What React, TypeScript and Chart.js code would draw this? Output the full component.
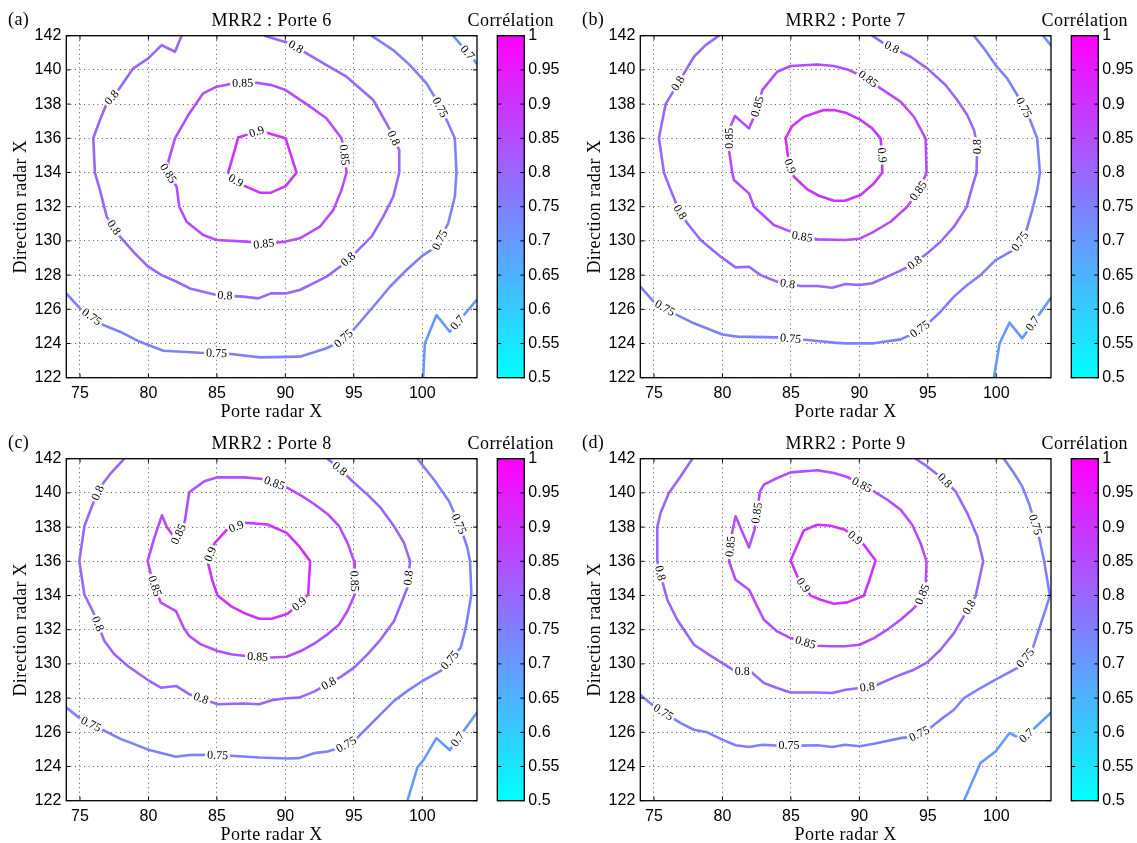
import React, { useEffect, useRef } from 'react';
import { Chart, registerables } from 'chart.js';

Chart.register(...registerables);

// ---------- axes / colour scale ----------
const X_MIN = 74;
const X_MAX = 104;
const Y_MIN = 122;
const Y_MAX = 142;
const xTicks = [75, 80, 85, 90, 95, 100];
const yTicks = [122, 124, 126, 128, 130, 132, 134, 136, 138, 140, 142];
const C_MIN = 0.5;
const C_MAX = 1;
const cbTicks = [0.5, 0.55, 0.6, 0.65, 0.7, 0.75, 0.8, 0.85, 0.9, 0.95, 1];
const xTitle = 'Porte radar X';
const yTitle = 'Direction radar X';
const cbTitle = 'Corrélation';

type P = [number, number];

// ---------- Porte 6 ----------
const p6_090: P[] = [[86.56,136.05],[87.9,136.39],[88.63,136.33],[90.02,136.0],[90.82,133.99],[90.02,133.2],[88.95,132.82],[88.14,132.82],[87.05,133.2],[86.39,133.52],[85.83,133.99]];
const p6_085: P[] = [[84.0,138.63],[84.98,139.02],[86.2,139.21],[87.9,139.25],[89.0,139.11],[90.02,138.82],[91.55,138.0],[93.0,137.17],[94.1,136.0],[94.23,135.6],[94.47,134.0],[94.1,132.97],[93.5,131.8],[92.52,130.83],[91.06,130.15],[90.02,129.96],[88.43,129.82],[87.17,129.96],[84.98,130.05],[84.0,130.34],[82.79,131.12],[82.25,132.0],[82.06,133.17],[81.45,133.95],[81.45,134.63],[81.94,136.0],[82.91,137.36]];
const p6_080: P[] = [[88.5,142],[90.33,141.55],[91.55,140.97],[93.01,140.28],[94.47,139.6],[96.42,138.24],[97.52,136.68],[98.32,135.31],[98.32,133.99],[97.88,132.58],[97.15,131.42],[96.3,130.25],[95.2,129.37],[93.99,128.49],[93.01,127.91],[92.04,127.52],[91.06,127.13],[90.02,126.93],[88.95,126.93],[88.02,126.64],[86.93,126.74],[84.98,126.83],[84.0,127.03],[83.03,127.22],[82.06,127.61],[80.96,128.0],[79.99,128.49],[79.01,129.27],[77.92,130.25],[76.95,131.42],[76.46,132.97],[76.09,133.99],[75.97,136.0],[76.46,137.07],[76.95,138.04],[77.8,138.82],[78.89,140.09],[79.99,140.67],[80.96,141.45],[81.94,141.06],[82.42,142]];
const p6_075: P[] = [[96.3,142],[97.88,141.16],[99.1,140.28],[100.31,139.21],[101.04,138.24],[101.9,136.87],[102.38,136.0],[102.5,133.99],[102.38,132.58],[101.9,131.03],[101.04,129.66],[100.07,129.17],[98.85,128.3],[97.64,127.32],[96.42,126.15],[94.96,124.79],[93.99,124.1],[93.01,123.72],[91.06,123.23],[88.14,123.19],[85.71,123.42],[83.76,123.46],[81.08,123.58],[79.38,124.1],[77.92,124.69],[76.7,125.08],[75.0,126.05],[74.0,126.93]];
const p6_070a: P[] = [[102.26,142],[103.97,140.38]];
const p6_070b: P[] = [[100.07,122],[100.19,124.0],[101.04,125.66],[102.02,124.69],[103.97,126.54]];
const p6_labels: [number, number, number][] = [
  [0.9,87.9,136.39],[0.9,86.39,133.52],
  [0.85,86.88,139.25],[0.85,94.23,135.02],[0.85,88.43,129.82],[0.85,81.45,133.95],
  [0.8,90.7,141.26],[0.8,97.88,136.0],[0.8,94.59,128.92],[0.8,85.59,126.74],[0.8,77.38,130.73],[0.8,77.38,138.34],
  [0.75,101.17,137.75],[0.75,101.29,130.05],[0.75,94.35,124.2],[0.75,84.98,123.42],[0.75,75.78,125.47],
  [0.7,103.24,140.97],[0.7,102.5,125.27],
];

// ---------- Porte 7 ----------
const p7_090: P[] = [[84.61,136.0],[85.1,136.72],[85.95,137.26],[87.41,137.65],[88.14,137.65],[89.0,137.5],[90.02,137.11],[90.94,136.58],[91.55,136.0],[91.67,134.92],[91.67,133.99],[91.06,133.36],[90.09,132.68],[88.95,132.35],[88.14,132.35],[87.05,132.64],[86.2,133.01],[85.22,133.75],[84.86,134.53]];
const p7_085: P[] = [[84.0,139.89],[84.98,140.23],[86.93,140.32],[88.14,140.23],[89.12,140.03],[90.58,139.5],[91.55,138.92],[93.01,138.14],[93.99,137.26],[94.84,136.0],[94.91,133.99],[94.35,132.97],[93.5,132.0],[92.28,131.12],[90.94,130.48],[90.02,130.13],[88.95,130.05],[86.93,130.09],[85.83,130.25],[84.98,130.54],[83.76,130.93],[82.3,132.0],[81.94,132.78],[80.84,133.56],[80.72,133.99],[80.48,135.31],[80.48,136.48],[80.91,137.3],[81.94,136.58],[82.42,137.46],[82.91,138.82]];
const p7_080: P[] = [[79.74,142],[78.77,141.45],[77.92,140.77],[77.19,139.8],[76.46,138.82],[75.85,138.0],[75.36,136.0],[75.73,133.99],[76.22,132.97],[76.82,131.8],[77.43,131.03],[78.41,130.05],[79.87,129.08],[80.96,128.45],[81.94,128.49],[82.79,128.0],[84.0,127.61],[85.71,127.36],[86.93,127.36],[88.02,127.26],[89.0,127.48],[90.02,127.42],[90.94,127.52],[92.04,127.91],[93.01,128.26],[93.99,128.69],[94.96,129.27],[95.93,129.95],[96.91,130.83],[97.83,131.96],[98.25,133.17],[98.56,133.99],[98.61,135.61],[98.37,136.48],[97.88,137.36],[97.15,138.24],[96.3,139.12],[94.96,140.09],[93.74,140.77],[92.77,141.16],[91.79,141.55],[90.94,142]];
const p7_075: P[] = [[98.37,142],[99.1,141.26],[99.95,140.28],[100.8,139.5],[101.53,138.53],[102.38,137.26],[102.99,136.0],[103.19,133.99],[102.99,132.97],[102.63,131.8],[102.14,130.44],[101.29,129.47],[99.95,128.88],[98.85,128.0],[97.88,127.42],[96.91,126.74],[95.93,125.86],[95.08,125.22],[93.99,124.59],[93.01,124.24],[91.06,124.01],[88.95,124.01],[88.14,124.05],[86.2,124.2],[84.0,124.36],[81.08,124.4],[79.99,124.53],[77.92,125.18],[76.7,125.66],[75.0,126.44],[74.0,127.32]];
const p7_070a: P[] = [[103.43,142],[103.97,141.45]];
const p7_070b: P[] = [[99.83,122],[100.24,124.0],[100.97,125.22],[101.9,124.3],[103.97,126.64]];
const p7_labels: [number, number, number][] = [
  [0.9,91.67,135.02],[0.9,84.86,134.34],
  [0.85,90.58,139.41],[0.85,94.23,132.97],[0.85,85.83,130.25],[0.85,80.48,136.0],[0.85,82.74,137.81],
  [0.8,76.95,139.12],[0.8,76.95,131.71],[0.8,84.74,127.42],[0.8,93.99,128.78],[0.8,98.61,135.51],[0.8,92.4,141.36],
  [0.75,101.9,137.75],[0.75,101.78,129.95],[0.75,94.47,124.79],[0.75,84.98,124.3],[0.75,75.85,126.15],
  [0.7,102.63,125.18],
];

// ---------- Porte 8 ----------
const p8_090: P[] = [[87.12,138.25],[88.7,138.15],[90.09,137.66],[91.01,136.88],[91.81,136.01],[91.67,134.06],[91.13,133.58],[90.16,132.93],[89.01,132.64],[88.09,132.64],[87.12,132.93],[86.02,133.38],[85.05,134.0],[84.68,134.84],[84.32,136.01],[84.85,137.08],[85.66,137.8]];
const p8_085: P[] = [[82.98,140.04],[84.08,140.68],[85.05,140.91],[86.99,140.91],[88.21,140.83],[89.18,140.58],[90.16,140.29],[91.13,139.86],[92.1,139.35],[93.08,138.77],[93.93,138.05],[94.54,137.08],[95.02,136.01],[95.07,134.06],[94.54,133.09],[93.93,132.31],[93.08,131.73],[92.1,131.18],[91.13,130.75],[90.09,130.42],[89.01,130.37],[87.12,130.46],[86.02,130.56],[85.05,130.75],[83.83,131.14],[82.98,131.63],[82.57,132.12],[82.01,133.09],[80.91,133.58],[80.67,134.06],[80.18,135.23],[79.94,136.01],[80.43,137.37],[80.99,138.69],[81.35,137.99],[82.01,137.27],[82.66,138.34]];
const p8_080: P[] = [[78.24,142],[77.26,141.16],[76.53,140.39],[75.92,139.32],[75.32,138.05],[74.95,136.01],[75.32,134.06],[76.05,132.89],[76.78,131.34],[77.51,130.56],[78.49,129.88],[80.06,129.0],[80.91,128.61],[82.01,128.71],[82.98,128.23],[85.05,127.64],[86.99,127.68],[88.09,127.64],[89.01,127.88],[90.09,127.99],[91.01,128.03],[92.1,128.38],[94.05,129.24],[95.02,129.78],[96.0,130.56],[96.97,131.44],[97.94,132.51],[98.43,133.48],[98.91,134.45],[99.11,136.01],[98.67,137.08],[97.94,138.05],[96.97,139.12],[96.0,139.9],[94.9,140.68],[94.05,141.36],[93.08,142]];
const p8_075: P[] = [[99.65,142],[100.86,140.77],[101.96,139.51],[102.81,137.95],[103.3,136.79],[103.49,136.01],[103.59,134.06],[103.18,132.12],[102.81,130.95],[101.35,129.59],[100.01,129.0],[98.92,128.42],[97.94,127.84],[96.97,127.06],[96.0,126.28],[95.15,125.6],[94.05,125.11],[93.08,124.88],[92.1,124.78],[91.01,124.49],[90.09,124.47],[88.09,124.53],[86.02,124.63],[84.08,124.68],[82.98,124.67],[82.01,124.57],[80.06,124.96],[78.97,125.31],[78.0,125.6],[76.78,126.09],[75.07,126.77],[74.0,127.45]];
const p8_070: P[] = [[98.92,122],[99.65,123.95],[100.09,124.37],[101.03,125.66],[102.01,124.96],[104,127.16]];
const p8_labels: [number, number, number][] = [
  [0.9,86.39,138.09],[0.9,84.56,136.4],[0.9,91.01,133.52],
  [0.85,89.18,140.52],[0.85,95.02,134.84],[0.85,87.97,130.37],[0.85,80.43,134.55],[0.85,82.25,137.56],
  [0.8,76.48,139.94],[0.8,76.17,132.31],[0.8,83.78,127.84],[0.8,93.2,128.81],[0.8,98.92,135.04],[0.8,94.05,141.49],
  [0.75,102.57,138.15],[0.75,102.08,130.17],[0.75,94.54,125.15],[0.75,85.05,124.67],[0.75,75.8,126.47],
  [0.7,102.57,125.6],
];

// ---------- Porte 9 ----------
const p9_090: P[] = [[84.98,136.05],[85.95,137.81],[86.93,138.14],[87.9,138.08],[88.95,137.85],[90.33,136.97],[91.19,136.05],[90.7,134.83],[90.33,133.99],[89.12,133.6],[88.14,133.52],[87.17,133.75],[86.44,133.99],[85.47,135.12]];
const p9_085: P[] = [[83.03,140.48],[84.0,140.87],[84.98,141.2],[86.93,141.32],[88.14,141.16],[89.12,140.93],[91.06,140.09],[92.04,139.6],[93.01,139.02],[93.86,138.14],[94.47,137.07],[94.91,136.0],[94.84,134.53],[94.35,133.56],[93.86,133.17],[93.01,132.58],[92.04,132.0],[91.06,131.51],[90.02,131.12],[88.95,131.03],[87.9,131.03],[86.93,131.06],[84.98,131.51],[84.0,131.9],[83.03,132.58],[82.54,133.36],[81.94,134.34],[80.96,134.92],[80.48,136.0],[80.65,137.46],[80.96,138.63],[81.94,136.81],[82.35,137.85],[82.74,140.09]];
const p9_080: P[] = [[77.8,142],[76.95,140.97],[76.09,140.0],[75.48,138.82],[75.24,138.0],[75.24,136.0],[75.61,134.83],[75.97,133.75],[76.7,132.58],[77.92,131.12],[79.01,130.54],[79.99,130.05],[80.96,129.56],[82.06,129.56],[83.03,128.88],[84.0,128.59],[84.98,128.33],[86.93,128.33],[88.02,128.3],[89.0,128.49],[90.02,128.59],[91.06,128.69],[92.04,129.04],[93.01,129.37],[93.99,129.66],[94.96,130.09],[95.93,130.83],[96.91,131.8],[97.76,132.97],[98.49,133.95],[98.73,134.83],[99.05,136.0],[98.61,137.46],[97.88,138.82],[97.03,140.09],[96.18,140.77],[94.96,141.55],[94.11,142]];
const p9_075: P[] = [[100.56,142],[101.29,141.16],[101.9,140.38],[102.38,139.41],[103.11,137.46],[103.48,136.09],[103.92,133.99],[103.6,133.17],[103.11,132.0],[102.63,130.83],[101.53,129.76],[99.95,129.08],[98.85,128.59],[97.64,128.0],[96.91,127.32],[95.93,126.74],[95.08,126.19],[93.99,125.76],[93.01,125.66],[91.06,125.33],[90.02,125.18],[88.95,125.27],[88.02,125.14],[86.93,125.24],[85.71,125.22],[84.0,125.22],[82.91,125.27],[81.94,125.14],[80.96,125.24],[79.99,125.57],[78.89,126.0],[77.92,126.15],[76.95,126.54],[75.0,127.52],[74.0,128.2]];
const p9_070: P[] = [[97.64,122],[98.85,124.2],[99.95,124.88],[100.97,125.96],[101.9,125.57],[103.97,127.13]];
const p9_labels: [number, number, number][] = [
  [0.9,89.68,137.36],[0.9,85.95,134.63],
  [0.85,90.21,140.48],[0.85,94.35,134.14],[0.85,86.07,131.26],[0.85,80.48,136.87],[0.85,82.54,138.82],
  [0.8,75.48,135.31],[0.8,81.45,129.5],[0.8,90.58,128.65],[0.8,98.12,133.27],[0.8,96.3,140.77],
  [0.75,102.87,138.14],[0.75,102.14,130.34],[0.75,94.35,125.96],[0.75,84.86,125.22],[0.75,75.68,127.17],
  [0.7,102.26,125.76],
];

// ---------- panels ----------
type Contour = { level: number; pts: P[]; closed: boolean };
type Panel = { tag: string; title: string; contours: Contour[]; labels: [number, number, number][] };

const panels: Panel[] = [
  { tag: '(a)', title: 'MRR2 : Porte 6', labels: p6_labels, contours: [
    { level: 0.9, pts: p6_090, closed: true }, { level: 0.85, pts: p6_085, closed: true },
    { level: 0.8, pts: p6_080, closed: false }, { level: 0.75, pts: p6_075, closed: false },
    { level: 0.7, pts: p6_070a, closed: false }, { level: 0.7, pts: p6_070b, closed: false } ] },
  { tag: '(b)', title: 'MRR2 : Porte 7', labels: p7_labels, contours: [
    { level: 0.9, pts: p7_090, closed: true }, { level: 0.85, pts: p7_085, closed: true },
    { level: 0.8, pts: p7_080, closed: false }, { level: 0.75, pts: p7_075, closed: false },
    { level: 0.7, pts: p7_070a, closed: false }, { level: 0.7, pts: p7_070b, closed: false } ] },
  { tag: '(c)', title: 'MRR2 : Porte 8', labels: p8_labels, contours: [
    { level: 0.9, pts: p8_090, closed: true }, { level: 0.85, pts: p8_085, closed: true },
    { level: 0.8, pts: p8_080, closed: false }, { level: 0.75, pts: p8_075, closed: false },
    { level: 0.7, pts: p8_070, closed: false } ] },
  { tag: '(d)', title: 'MRR2 : Porte 9', labels: p9_labels, contours: [
    { level: 0.9, pts: p9_090, closed: true }, { level: 0.85, pts: p9_085, closed: true },
    { level: 0.8, pts: p9_080, closed: false }, { level: 0.75, pts: p9_075, closed: false },
    { level: 0.7, pts: p9_070, closed: false } ] },
];

// ---------- layout ----------
const COL_STEP = 574;
const ROW_STEP = 423;
const MAIN_W = 486;
const MAIN_H = 423;
const AREA_LEFT = 66.3;
const AREA_RIGHT = 477;
const AREA_TOP = 35.7;
const AREA_BOTTOM = 377.7;
const CB_LEFT = 460;
const CB_W = 112;
const CB_AREA_LEFT = 497.3;
const CB_AREA_RIGHT = 524.3;

const SERIF = '"Liberation Serif", "Times New Roman", serif';
const SANS = '"Liberation Sans", Arial, sans-serif';

function cool(v: number): string {
  const t = Math.max(0, Math.min(1, (v - C_MIN) / (C_MAX - C_MIN)));
  return `rgb(${Math.round(255 * t)},${Math.round(255 * (1 - t))},255)`;
}

function closedPts(c: Contour): P[] {
  return c.closed ? [...c.pts, c.pts[0]] : c.pts;
}

function makeDecor(panel: Panel) {
  return {
    id: 'decor',
    afterDatasetsDraw(chart: any) {
      const { ctx, chartArea: a } = chart;
      const xs = chart.scales.x;
      const ys = chart.scales.y;
      // inline contour labels
      ctx.save();
      ctx.font = `12px ${SERIF}`;
      ctx.textAlign = 'center';
      ctx.textBaseline = 'middle';
      for (const [lv, lx, ly] of panel.labels) {
        const qx = xs.getPixelForValue(lx);
        const qy = ys.getPixelForValue(ly);
        let best = { d: Infinity, x: qx, y: qy, a: 0 };
        for (const c of panel.contours) {
          if (c.level !== lv) continue;
          const pp = closedPts(c).map(([x, y]) => [xs.getPixelForValue(x), ys.getPixelForValue(y)]);
          for (let i = 0; i < pp.length - 1; i++) {
            const [x1, y1] = pp[i];
            const [x2, y2] = pp[i + 1];
            const dx = x2 - x1, dy = y2 - y1;
            const L = dx * dx + dy * dy || 1;
            let t = ((qx - x1) * dx + (qy - y1) * dy) / L;
            t = Math.max(0, Math.min(1, t));
            const cx = x1 + t * dx, cy = y1 + t * dy;
            const d = (cx - qx) ** 2 + (cy - qy) ** 2;
            if (d < best.d) best = { d, x: cx, y: cy, a: Math.atan2(dy, dx) };
          }
        }
        let ang = best.a;
        if (ang > Math.PI / 2) ang -= Math.PI;
        if (ang < -Math.PI / 2) ang += Math.PI;
        const txt = String(lv);
        ctx.save();
        ctx.translate(best.x, best.y);
        ctx.rotate(ang);
        const w = ctx.measureText(txt).width;
        ctx.fillStyle = '#fff';
        ctx.fillRect(-w / 2 - 2, -5.5, w + 4, 11);
        ctx.fillStyle = '#000';
        ctx.fillText(txt, 0, 0.5);
        ctx.restore();
      }
      ctx.restore();
      // box and inward ticks
      ctx.save();
      ctx.strokeStyle = '#000';
      ctx.lineWidth = 1.3;
      ctx.strokeRect(a.left, a.top, a.right - a.left, a.bottom - a.top);
      ctx.lineWidth = 1;
      ctx.beginPath();
      for (const v of xTicks) {
        const px = xs.getPixelForValue(v);
        ctx.moveTo(px, a.bottom); ctx.lineTo(px, a.bottom - 4);
        ctx.moveTo(px, a.top); ctx.lineTo(px, a.top + 4);
      }
      for (const v of yTicks) {
        const py = ys.getPixelForValue(v);
        ctx.moveTo(a.left, py); ctx.lineTo(a.left + 4, py);
        ctx.moveTo(a.right, py); ctx.lineTo(a.right - 4, py);
      }
      ctx.stroke();
      ctx.restore();
    },
    afterDraw(chart: any) {
      const { ctx, chartArea: a } = chart;
      const cx = (a.left + a.right) / 2;
      const cy = (a.top + a.bottom) / 2;
      ctx.save();
      ctx.fillStyle = '#000';
      ctx.font = `18px ${SERIF}`;
      try { (ctx as any).letterSpacing = '0.4px'; } catch (e) { /* ignore */ }
      ctx.textBaseline = 'alphabetic';
      ctx.textAlign = 'left';
      ctx.fillText(panel.tag, 8, 24.5);
      ctx.textAlign = 'center';
      ctx.fillText(panel.title, cx, 26);
      ctx.fillText(xTitle, cx, 416.5);
      ctx.save();
      ctx.translate(21, cy);
      ctx.rotate(-Math.PI / 2);
      ctx.textBaseline = 'middle';
      ctx.fillText(yTitle, 0, 0);
      ctx.restore();
      ctx.restore();
    },
  };
}

const cbDecor = {
  id: 'cbDecor',
  afterDatasetsDraw(chart: any) {
    const { ctx, chartArea: a } = chart;
    const ys = chart.scales.y;
    ctx.save();
    ctx.strokeStyle = '#000';
    ctx.lineWidth = 1.3;
    ctx.strokeRect(a.left, a.top, a.right - a.left, a.bottom - a.top);
    ctx.lineWidth = 1;
    ctx.beginPath();
    for (const v of cbTicks) {
      const py = ys.getPixelForValue(v);
      ctx.moveTo(a.left, py); ctx.lineTo(a.left + 4, py);
      ctx.moveTo(a.right, py); ctx.lineTo(a.right - 4, py);
    }
    ctx.stroke();
    ctx.fillStyle = '#000';
    ctx.font = `18px ${SERIF}`;
    try { (ctx as any).letterSpacing = '0.4px'; } catch (e) { /* ignore */ }
    ctx.textAlign = 'center';
    ctx.textBaseline = 'alphabetic';
    ctx.fillText(cbTitle, (a.left + a.right) / 2, 26);
    ctx.restore();
  },
};

function ContourPanel({ panel, left, top }: { panel: Panel; left: number; top: number }) {
  const ref = useRef<HTMLCanvasElement>(null);
  useEffect(() => {
    if (!ref.current) return;
    const datasets = panel.contours.map((c) => ({
      label: String(c.level),
      data: closedPts(c).map(([x, y]) => ({ x, y })),
      showLine: true,
      borderColor: cool(c.level),
      backgroundColor: cool(c.level),
      borderWidth: 2.6,
      pointRadius: 0,
      pointHoverRadius: 0,
      tension: 0,
      fill: false,
      borderJoinStyle: 'round' as const,
      borderCapStyle: 'round' as const,
    }));
    const tickFont = { family: SANS, size: 16 };
    const chart = new Chart(ref.current, {
      type: 'scatter',
      data: { datasets },
      options: {
        animation: false,
        responsive: false,
        maintainAspectRatio: false,
        events: [],
        layout: { padding: { left: 0, right: MAIN_W - AREA_RIGHT, top: AREA_TOP, bottom: 0 } },
        plugins: { legend: { display: false }, tooltip: { enabled: false }, title: { display: false } },
        scales: {
          x: {
            type: 'linear',
            position: 'bottom',
            min: X_MIN,
            max: X_MAX,
            afterBuildTicks: (s: any) => { s.ticks = xTicks.map((value) => ({ value })); },
            afterFit: (s: any) => { s.height = MAIN_H - AREA_BOTTOM; },
            ticks: { autoSkip: false, maxRotation: 0, padding: 6, color: '#000', font: tickFont, callback: (v: any) => String(v) },
            grid: { color: 'rgba(0,0,0,0.65)', lineWidth: 1, drawTicks: false },
            border: { display: false, dash: [1, 3.5] },
          },
          y: {
            type: 'linear',
            position: 'left',
            min: Y_MIN,
            max: Y_MAX,
            afterBuildTicks: (s: any) => { s.ticks = yTicks.map((value) => ({ value })); },
            afterFit: (s: any) => { s.width = AREA_LEFT; },
            ticks: { autoSkip: false, padding: 5, color: '#000', font: tickFont, callback: (v: any) => String(v) },
            grid: { color: 'rgba(0,0,0,0.65)', lineWidth: 1, drawTicks: false },
            border: { display: false, dash: [1, 3.5] },
          },
        },
      } as any,
      plugins: [makeDecor(panel)],
    });
    return () => chart.destroy();
  }, [panel]);
  return (
    <canvas
      ref={ref}
      width={MAIN_W}
      height={MAIN_H}
      style={{ position: 'absolute', left, top, width: MAIN_W, height: MAIN_H }}
    />
  );
}

function ColorBar({ left, top }: { left: number; top: number }) {
  const ref = useRef<HTMLCanvasElement>(null);
  useEffect(() => {
    if (!ref.current) return;
    const chart = new Chart(ref.current, {
      type: 'bar',
      data: {
        labels: [cbTitle],
        datasets: [{
          data: [[C_MIN, C_MAX]] as any,
          backgroundColor: (c: any) => {
            const a = c.chart.chartArea;
            if (!a) return cool(C_MAX);
            const g = c.chart.ctx.createLinearGradient(0, a.bottom, 0, a.top);
            g.addColorStop(0, cool(C_MIN));
            g.addColorStop(1, cool(C_MAX));
            return g;
          },
          borderWidth: 0,
          barPercentage: 1,
          categoryPercentage: 1,
        }],
      },
      options: {
        animation: false,
        responsive: false,
        maintainAspectRatio: false,
        events: [],
        layout: { padding: { left: CB_AREA_LEFT - CB_LEFT, right: 0, top: AREA_TOP, bottom: MAIN_H - AREA_BOTTOM } },
        plugins: { legend: { display: false }, tooltip: { enabled: false }, title: { display: false } },
        scales: {
          x: { type: 'category', display: false },
          y: {
            type: 'linear',
            position: 'right',
            min: C_MIN,
            max: C_MAX,
            afterBuildTicks: (s: any) => { s.ticks = cbTicks.map((value) => ({ value })); },
            afterFit: (s: any) => { s.width = CB_W - (CB_AREA_RIGHT - CB_LEFT); },
            ticks: { autoSkip: false, padding: 4, color: '#000', font: { family: SANS, size: 16 }, callback: (v: any) => String(v) },
            grid: { display: false, drawTicks: false },
            border: { display: false },
          },
        },
      } as any,
      plugins: [cbDecor],
    });
    return () => chart.destroy();
  }, []);
  return (
    <canvas
      ref={ref}
      width={CB_W}
      height={MAIN_H}
      style={{ position: 'absolute', left, top, width: CB_W, height: MAIN_H }}
    />
  );
}

export default function App() {
  return (
    <div style={{ position: 'absolute', left: 0, top: 0, width: 1137, height: 843, overflow: 'hidden', background: '#fff' }}>
      {panels.map((p, i) => {
        const col = i % 2;
        const row = Math.floor(i / 2);
        const left = col * COL_STEP;
        const top = row * ROW_STEP;
        return (
          <React.Fragment key={p.tag}>
            <ContourPanel panel={p} left={left} top={top} />
            <ColorBar left={left + CB_LEFT} top={top} />
          </React.Fragment>
        );
      })}
    </div>
  );
}
